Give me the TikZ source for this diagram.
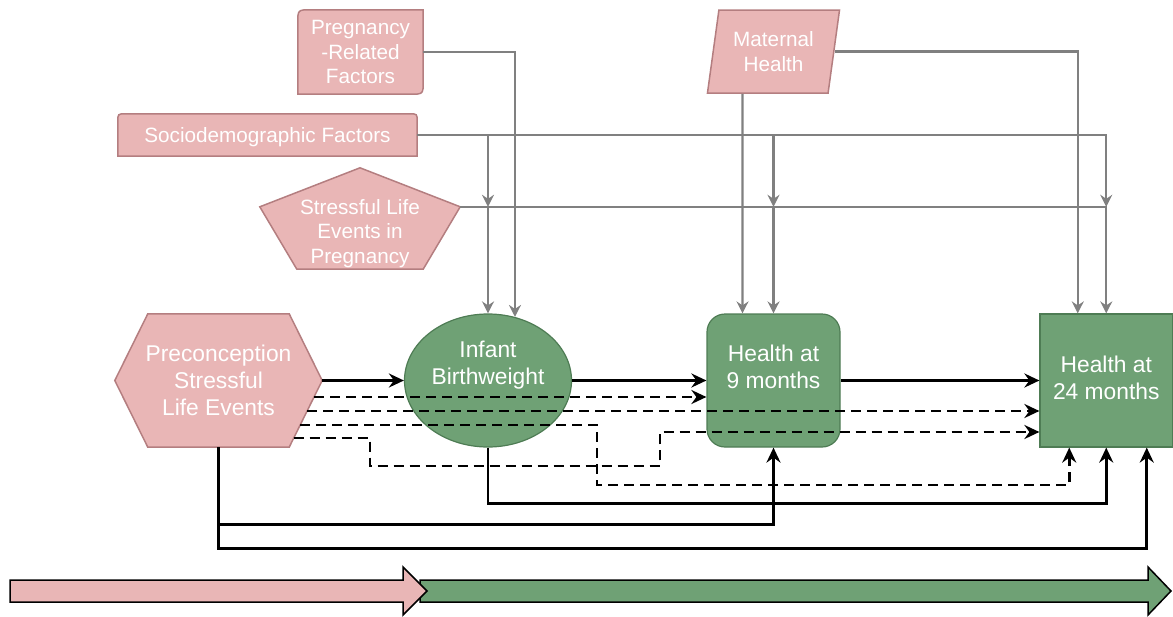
\documentclass[tikz,border=0pt]{standalone}
\usepackage{fontspec}
\setmainfont{Liberation Sans}
\usetikzlibrary{arrows.meta,calc,shapes.geometric,backgrounds}
\definecolor{pinkfill}{RGB}{233,182,182}
\definecolor{pinkline}{RGB}{180,126,128}
\definecolor{greenfill}{RGB}{111,161,117}
\definecolor{greenline}{RGB}{78,124,84}
\definecolor{infl}{RGB}{128,128,128}

\begin{document}
\begin{tikzpicture}[x=1pt,y=-1pt,>={Stealth[length=15pt,width=14pt,inset=5pt]},
   big/.style={font=\fontsize{22.8}{27}\selectfont},
   small/.style={font=\fontsize{20.7}{24.5}\selectfont},
   outc/.style={big,draw=greenline,fill=greenfill,line width=1.2pt,text=white,align=center,inner sep=0pt,minimum height=133pt},
   fact/.style={small,text=white,align=center,inner sep=0pt},
   pinkbody/.style={fill=pinkfill,draw=pinkline,line width=1.5pt},
   flow/.style={->,line width=2.8pt},
   flowd/.style={flow,line width=2.5pt,dash pattern=on 10pt off 6pt},
   cov/.style={->,draw=infl,line width=2.2pt,>={Stealth[length=12pt,width=12pt,inset=4pt]}}]
  \useasboundingbox (0,0) rectangle (1173,616);

  % ---- time line ----
  \filldraw[fill=greenfill,line width=1.5pt] (420,580) -- (1148,580) -- (1148,567) -- (1171,591) -- (1148,615) -- (1148,602) -- (420,602) -- cycle;
  \filldraw[fill=pinkfill,line width=1.5pt] (10,580) -- (403,580) -- (403,567) -- (427,591) -- (403,615) -- (403,602) -- (10,602) -- cycle;

  % ---- covariates ----
  \node[fact,minimum width=125pt,minimum height=84pt] (prf) at (360.5,52) {Pregnancy\\-Related\\Factors};
  \node[fact,trapezium,trapezium left angle=78,trapezium right angle=102,trapezium stretches=true,minimum width=133pt,minimum height=83pt,pinkbody] (mh) at (773.5,51.5) {Maternal\\Health};
  \node[fact,minimum width=299pt,minimum height=42pt,text height=16pt,text depth=1pt] (sdf) at (267.5,135) {Sociodemographic Factors};
  \node[fact,minimum width=200pt,minimum height=101pt,text height=95pt,text depth=5.2pt] (slep) at (360,218.5) {Stressful Life\\Events in\\Pregnancy};
  \coordinate (sl) at ($(slep.north east)+(0,39)$);

  % ---- exposure and outcomes ----
  \node[fact,big,minimum width=207pt,minimum height=133pt] (pre) at (218.5,380.5) {Preconception\\Stressful\\Life Events};
  \node[outc,ellipse,minimum width=167pt,text height=43.3pt,text depth=36pt] (ibw) at (488,380.5) {Infant\\Birthweight};
  \node[outc,rounded corners=18pt,minimum width=133pt,text height=43.3pt,text depth=28pt] (h9) at (773.5,380.5) {Health at\\9 months};
  \node[outc,minimum width=132.5pt,text height=43.3pt,text depth=6pt] (h24) at (1106.25,380.5) {Health at\\24 months};

  % pink outlines behind the text
  \begin{scope}[on background layer]
    \filldraw[pinkbody] ($(prf.north west)+(0,13)$) .. controls (prf.north west) .. ($(prf.north west)+(13,0)$) -- (prf.north east) -- ($(prf.south east)+(0,-13)$) .. controls (prf.south east) .. ($(prf.south east)+(-13,0)$) -- (prf.south west) -- cycle;
    \filldraw[pinkbody] (sdf.south west) -- ($(sdf.north west)+(0,8)$) .. controls (sdf.north west) .. ($(sdf.north west)+(8,0)$) -- ($(sdf.north east)+(-8,0)$) .. controls (sdf.north east) .. ($(sdf.north east)+(0,8)$) -- (sdf.south east) -- cycle;
    \filldraw[pinkbody] (slep.north) -- (sl) -- ($(slep.south east)+(-37,0)$) -- ($(slep.south west)+(37,0)$) -- ($(slep.north west)+(0,39)$) -- cycle;
    \filldraw[pinkbody] (pre.west) -- ($(pre.north west)+(33,0)$) -- ($(pre.north east)+(-33,0)$) -- (pre.east) -- ($(pre.south east)+(-33,0)$) -- ($(pre.south west)+(33,0)$) -- cycle;
  \end{scope}

  % grey covariate edges
  \draw[cov] (prf.east) -| (ibw.67.6);
  \draw[cov] ([xshift=-31pt]mh.south) -- ([xshift=-31pt]h9.north);
  \draw[cov] (mh.east) -| ([xshift=-28.5pt]h24.north);
  \draw[cov] (sdf.east) -| (h24.north |- sl);
  \draw[cov] (sl) -| (h24.north);
  \foreach \n in {ibw,h9}{
    \draw[cov] (\n.north |- sdf.east) -- (\n.north |- sl);
    \draw[cov] (\n.north |- sl) -- (\n.north);}

  % main paths
  \draw[flow] (pre) -- (ibw);
  \draw[flow] (ibw) -- (h9);
  \draw[flow] (h9) -- (h24);
  \draw[flow] (ibw.south) -- ++(0,56) -| (h24.south);
  \draw[flow] (pre.south) -- ++(0,77) -| (h9.south);
  \draw[flow] (pre.south) -- ++(0,101) -| ([xshift=40.5pt]h24.south);

  % dashed paths from the exposure
  \foreach \i/\dx/\dy in {1/-8.2/16.5,2/-15.1/30.5,3/-22.1/44.5,4/-28.5/57.5}
    \coordinate (d\i) at ($(pre.east)+(\dx,\dy)$);
  \draw[flowd] (d1) -- (d1 -| h9.west);
  \draw[flowd] (d2) -- (d2 -| h24.west);
  \draw[flowd] (d3) -| (597,485) -| ([xshift=-37pt]h24.south);
  \draw[flowd] (d4) -| (370,466) -| (660,432) -- ([yshift=-51.5pt]h24.west);
\end{tikzpicture}
\end{document}
